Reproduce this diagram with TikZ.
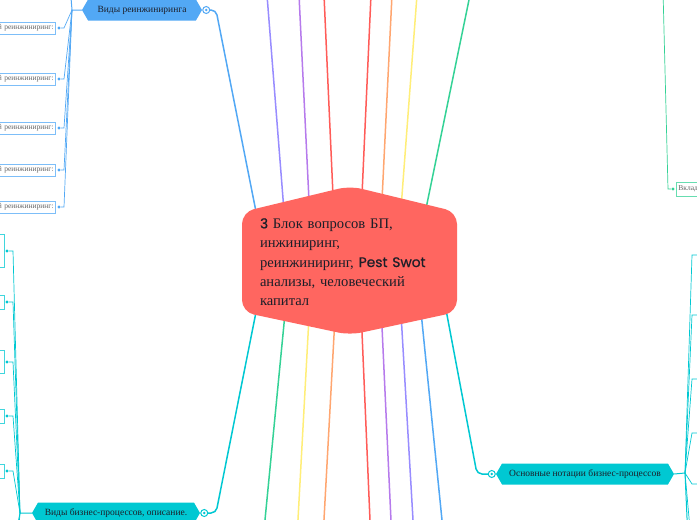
\documentclass[tikz,border=0pt]{standalone}
\usepackage{fontspec}
\setmainfont{Liberation Serif}
\newfontfamily\popfont{Poppins}[FakeBold=0.7]
\usepackage{tikz}
\usetikzlibrary{shapes.symbols,positioning,backgrounds,calc}
\definecolor{mmred}{RGB}{255,102,96}
\definecolor{mmredline}{RGB}{255,92,88}
\definecolor{mmblue}{RGB}{82,168,245}
\definecolor{mmviolet}{RGB}{152,140,255}
\definecolor{mmpurple}{RGB}{182,122,236}
\definecolor{mmorange}{RGB}{255,166,112}
\definecolor{mmyellow}{RGB}{255,238,120}
\definecolor{mmgreen}{RGB}{52,210,150}
\definecolor{mmteal}{RGB}{0,200,210}
\definecolor{mmink}{RGB}{28,30,40}
\newcommand{\popsz}{\popfont\fontsize{13.8}{19.3}\selectfont}

\begin{document}
\begin{tikzpicture}[x=1pt,y=-1pt,
    every node/.style={font=\fontsize{9.5}{11}\selectfont,text=mmink},
    branch/.style={signal,signal to=west and east,signal pointer angle=120,fill=#1,minimum height=21pt,inner sep=0pt},
    leaf/.style={draw=#1!75,line width=0.8pt,fill=white,anchor=east,inner sep=2pt,font=\fontsize{7.5}{8}\selectfont,text=black!60},
    knob/.style={circle,draw=#1,line width=1pt,fill=white,minimum size=7pt,inner sep=0pt,path picture={\fill[#1] (path picture bounding box.center) circle (1.3pt);}},
    dotmark/.style={circle,fill=#1,minimum size=3.2pt,inner sep=0pt},
    wire/.style={draw=#1,line width=1.5pt,rounded corners=5pt},
    twig/.style={draw=#1,line width=0.7pt}]
  \useasboundingbox (0,0) rectangle (697,520);
  \clip (0,0) rectangle (697,520);

  % centre
  \node[text width=190pt,align=left,font=\fontsize{14.6}{19.3}\selectfont] (ctr) at (355,262) {{\popsz 3} Блок вопросов БП,\\ инжиниринг,\\ реинжиниринг, {\popsz Pest Swot}\\ анализы, человеческий\\ капитал};

  % main branches
  \node[branch=mmblue,minimum width=120pt] (reeng) at (142,10) {Виды реинжиниринга};
  \node[knob=mmblue,right=0pt of reeng] (reengk) {};
  \node[branch=mmteal,minimum width=168pt] (kinds) at (116,513) {Виды бизнес-процессов, описание.};
  \node[knob=mmteal,right=0pt of kinds] (kindsk) {};
  \node[branch=mmteal,minimum width=178pt] (notat) at (585,474) {Основные нотации бизнес-процессов};
  \node[knob=mmteal,left=0pt of notat] (notatk) {};

  \begin{scope}[on background layer]
    \clip (0,0) rectangle (697,520);
    \fill[white] (0,0) rectangle (697,520);
    \foreach \c/\dx/\xe [count=\i] in {mmviolet/-67/267,mmpurple/-43/299,mmredline/-19/324,mmredline/4/371,mmorange/24/392,mmyellow/42/417,mmgreen/60/470} {
      \coordinate (up\i) at (\xe,-5);
      \draw[wire=\c] ($(ctr.center)+(\dx,0)$) -- (up\i);
    }
    \foreach \c/\dx/\xe [count=\i] in {mmgreen/-65/264.5,mmyellow/-43/297.7,mmorange/-17/323.7,mmredline/4/370.2,mmpurple/24/391.2,mmviolet/43/413.3,mmblue/61/442.5} {
      \coordinate (dn\i) at (\xe,525);
      \draw[wire=\c] ($(ctr.center)+(\dx,0)$) -- (dn\i);
    }
    \draw[wire=mmblue] (reengk) -- (216,10) -- ($(ctr.center)+(-89,0)$);
    \draw[wire=mmteal] ($(ctr.center)+(-89,0)$) -- (216,513) -- (kindsk);
    \draw[wire=mmteal] ($(ctr.center)+(82,0)$) -- (477,474) -- (notatk);
    \fill[mmred,rounded corners=12pt] (242,212) -- (350,186) -- (457,212) -- (457,312) -- (350,335) -- (242,312) -- cycle;
  \end{scope}

  % reengineering leaves
  \coordinate (jb) at (72,10);
  \draw[twig=mmblue,line width=1pt] (reeng.west) -- (jb) -- (70,-15);
  \foreach \y [count=\i] in {28,79,128,170,207} {
    \node[leaf=mmblue,text width=70pt,align=right,minimum height=12pt] (rl\i) at (56,\y) {й реинжиниринг:};
    \node[dotmark=mmblue] (rp\i) at (59,\y) {};
    \draw[twig=mmblue] (jb) -- (64,\y) -- (rp\i);
  }

  % process kinds leaves
  \coordinate (jl) at (20,513);
  \draw[twig=mmteal,line width=1pt] (kinds.west) -- (jl) -- (15,540);
  \draw[twig=mmteal] (jl) -- (18,540);
  \foreach \y/\h [count=\i] in {251/33,302/14,362/23,416/14,471/14} {
    \node[leaf=mmteal,minimum width=40pt,minimum height=\h pt] (kl\i) at (4.5,\y) {};
    \node[dotmark=mmteal] (kp\i) at (7,\y) {};
    \draw[twig=mmteal] (jl) -- (13,\y) -- (kp\i);
  }

  % notation leaves
  \coordinate (jr) at (685,473);
  \draw[twig=mmteal,line width=1pt] (notat.east) -- (jr) -- (688,540);
  \draw[twig=mmteal] (jr) -- (691,540);
  \foreach \y [count=\i] in {255,315,379,433,484} {
    \coordinate (nr\i) at (705,\y);
    \draw[twig=mmteal] (jr) -- (692,\y) -- (nr\i);
  }

  % contribution leaf
  \node[leaf=mmgreen,anchor=west,text width=40pt,align=left,minimum height=14pt] (contrib) at (676,189) {Вклад};
  \node[dotmark=mmgreen] (contribp) at (673,189) {};
  \coordinate (contribt) at (663,-10);
  \draw[twig=mmgreen] (contribt) -- (668,189) -- (contribp);
\end{tikzpicture}
\end{document}
